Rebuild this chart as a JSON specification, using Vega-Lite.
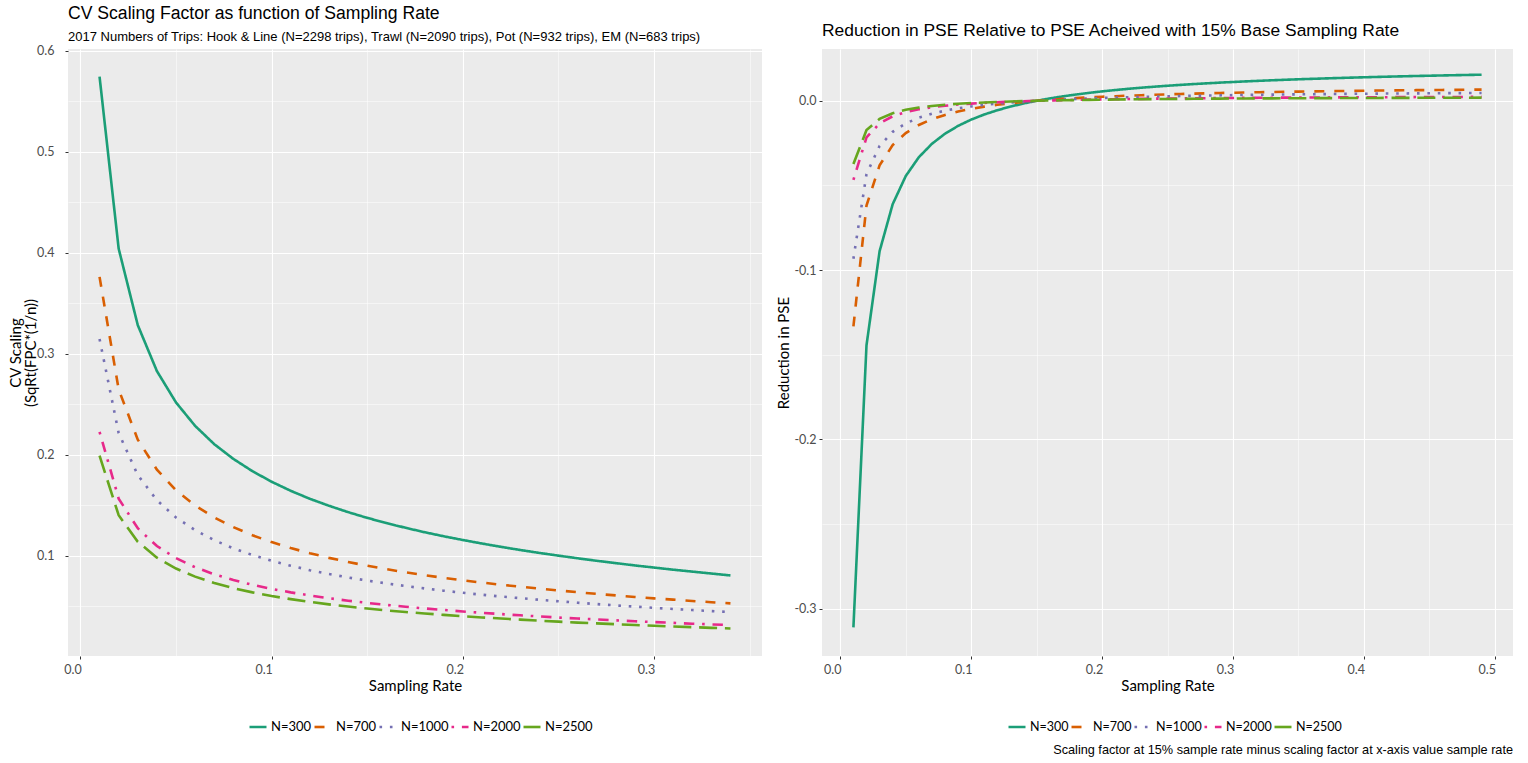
{
"$schema": "https://vega.github.io/schema/vega-lite/v6.json",
"padding": {"left": 8, "top": 5, "right": 14, "bottom": 5},
"title": {"text": "Scaling factor at 15% sample rate minus scaling factor at x-axis value sample rate", "orient": "bottom", "anchor": "end", "font": "Liberation Sans", "fontSize": 12.7, "fontWeight": "normal", "color": "#000000", "offset": 10},
"config": {
  "view": {"fill": "#EBEBEB", "stroke": null},
  "axis": {"gridColor": "#FFFFFF", "domain": false, "tickColor": "#333333", "tickSize": 3, "labelFont": "Lato", "labelFontSize": 12.5, "labelColor": "#4D4D4D", "labelOverlap": false, "labelFlush": false, "titleFont": "Lato", "titleFontSize": 15, "titleFontWeight": "normal", "titleColor": "#000000", "titleLineHeight": 15},
  "axisX": {"labelPadding": 4, "labelOffset": -8},
  "legend": {"title": null, "symbolType": "stroke", "symbolSize": 289, "symbolStrokeWidth": 2.6, "labelFont": "Lato", "labelFontSize": 13, "labelColor": "#000000", "labelOffset": 3, "columnPadding": -3, "gridAlign": "none"}
},
"datasets": {
"cv": [
{"rate":0.01,"N":"N=300","value":0.5745},{"rate":0.02,"N":"N=300","value":0.4041},{"rate":0.03,"N":"N=300","value":0.3283},{"rate":0.04,"N":"N=300","value":0.2828},{"rate":0.05,"N":"N=300","value":0.2517},{"rate":0.06,"N":"N=300","value":0.2285},{"rate":0.07,"N":"N=300","value":0.2104},{"rate":0.08,"N":"N=300","value":0.1958},{"rate":0.09,"N":"N=300","value":0.1836},{"rate":0.10,"N":"N=300","value":0.1732},{"rate":0.11,"N":"N=300","value":0.1642},{"rate":0.12,"N":"N=300","value":0.1563},{"rate":0.13,"N":"N=300","value":0.1494},{"rate":0.14,"N":"N=300","value":0.1431},{"rate":0.15,"N":"N=300","value":0.1374},{"rate":0.16,"N":"N=300","value":0.1323},{"rate":0.17,"N":"N=300","value":0.1276},{"rate":0.18,"N":"N=300","value":0.1232},{"rate":0.19,"N":"N=300","value":0.1192},{"rate":0.20,"N":"N=300","value":0.1155},{"rate":0.21,"N":"N=300","value":0.1120},{"rate":0.22,"N":"N=300","value":0.1087},{"rate":0.23,"N":"N=300","value":0.1056},{"rate":0.24,"N":"N=300","value":0.1027},{"rate":0.25,"N":"N=300","value":0.1000},{"rate":0.26,"N":"N=300","value":0.0974},{"rate":0.27,"N":"N=300","value":0.0949},{"rate":0.28,"N":"N=300","value":0.0926},{"rate":0.29,"N":"N=300","value":0.0903},{"rate":0.30,"N":"N=300","value":0.0882},{"rate":0.31,"N":"N=300","value":0.0861},{"rate":0.32,"N":"N=300","value":0.0842},{"rate":0.33,"N":"N=300","value":0.0823},{"rate":0.34,"N":"N=300","value":0.0804},
{"rate":0.01,"N":"N=700","value":0.3761},{"rate":0.02,"N":"N=700","value":0.2646},{"rate":0.03,"N":"N=700","value":0.2149},{"rate":0.04,"N":"N=700","value":0.1852},{"rate":0.05,"N":"N=700","value":0.1647},{"rate":0.06,"N":"N=700","value":0.1496},{"rate":0.07,"N":"N=700","value":0.1378},{"rate":0.08,"N":"N=700","value":0.1282},{"rate":0.09,"N":"N=700","value":0.1202},{"rate":0.10,"N":"N=700","value":0.1134},{"rate":0.11,"N":"N=700","value":0.1075},{"rate":0.12,"N":"N=700","value":0.1024},{"rate":0.13,"N":"N=700","value":0.0978},{"rate":0.14,"N":"N=700","value":0.0937},{"rate":0.15,"N":"N=700","value":0.0900},{"rate":0.16,"N":"N=700","value":0.0866},{"rate":0.17,"N":"N=700","value":0.0835},{"rate":0.18,"N":"N=700","value":0.0807},{"rate":0.19,"N":"N=700","value":0.0780},{"rate":0.20,"N":"N=700","value":0.0756},{"rate":0.21,"N":"N=700","value":0.0733},{"rate":0.22,"N":"N=700","value":0.0712},{"rate":0.23,"N":"N=700","value":0.0692},{"rate":0.24,"N":"N=700","value":0.0673},{"rate":0.25,"N":"N=700","value":0.0655},{"rate":0.26,"N":"N=700","value":0.0638},{"rate":0.27,"N":"N=700","value":0.0621},{"rate":0.28,"N":"N=700","value":0.0606},{"rate":0.29,"N":"N=700","value":0.0591},{"rate":0.30,"N":"N=700","value":0.0577},{"rate":0.31,"N":"N=700","value":0.0564},{"rate":0.32,"N":"N=700","value":0.0551},{"rate":0.33,"N":"N=700","value":0.0539},{"rate":0.34,"N":"N=700","value":0.0527},
{"rate":0.01,"N":"N=1000","value":0.3146},{"rate":0.02,"N":"N=1000","value":0.2214},{"rate":0.03,"N":"N=1000","value":0.1798},{"rate":0.04,"N":"N=1000","value":0.1549},{"rate":0.05,"N":"N=1000","value":0.1378},{"rate":0.06,"N":"N=1000","value":0.1252},{"rate":0.07,"N":"N=1000","value":0.1153},{"rate":0.08,"N":"N=1000","value":0.1072},{"rate":0.09,"N":"N=1000","value":0.1006},{"rate":0.10,"N":"N=1000","value":0.0949},{"rate":0.11,"N":"N=1000","value":0.0900},{"rate":0.12,"N":"N=1000","value":0.0856},{"rate":0.13,"N":"N=1000","value":0.0818},{"rate":0.14,"N":"N=1000","value":0.0784},{"rate":0.15,"N":"N=1000","value":0.0753},{"rate":0.16,"N":"N=1000","value":0.0725},{"rate":0.17,"N":"N=1000","value":0.0699},{"rate":0.18,"N":"N=1000","value":0.0675},{"rate":0.19,"N":"N=1000","value":0.0653},{"rate":0.20,"N":"N=1000","value":0.0632},{"rate":0.21,"N":"N=1000","value":0.0613},{"rate":0.22,"N":"N=1000","value":0.0595},{"rate":0.23,"N":"N=1000","value":0.0579},{"rate":0.24,"N":"N=1000","value":0.0563},{"rate":0.25,"N":"N=1000","value":0.0548},{"rate":0.26,"N":"N=1000","value":0.0534},{"rate":0.27,"N":"N=1000","value":0.0520},{"rate":0.28,"N":"N=1000","value":0.0507},{"rate":0.29,"N":"N=1000","value":0.0495},{"rate":0.30,"N":"N=1000","value":0.0483},{"rate":0.31,"N":"N=1000","value":0.0472},{"rate":0.32,"N":"N=1000","value":0.0461},{"rate":0.33,"N":"N=1000","value":0.0451},{"rate":0.34,"N":"N=1000","value":0.0441},
{"rate":0.01,"N":"N=2000","value":0.2225},{"rate":0.02,"N":"N=2000","value":0.1565},{"rate":0.03,"N":"N=2000","value":0.1271},{"rate":0.04,"N":"N=2000","value":0.1095},{"rate":0.05,"N":"N=2000","value":0.0975},{"rate":0.06,"N":"N=2000","value":0.0885},{"rate":0.07,"N":"N=2000","value":0.0815},{"rate":0.08,"N":"N=2000","value":0.0758},{"rate":0.09,"N":"N=2000","value":0.0711},{"rate":0.10,"N":"N=2000","value":0.0671},{"rate":0.11,"N":"N=2000","value":0.0636},{"rate":0.12,"N":"N=2000","value":0.0606},{"rate":0.13,"N":"N=2000","value":0.0578},{"rate":0.14,"N":"N=2000","value":0.0554},{"rate":0.15,"N":"N=2000","value":0.0532},{"rate":0.16,"N":"N=2000","value":0.0512},{"rate":0.17,"N":"N=2000","value":0.0494},{"rate":0.18,"N":"N=2000","value":0.0477},{"rate":0.19,"N":"N=2000","value":0.0462},{"rate":0.20,"N":"N=2000","value":0.0447},{"rate":0.21,"N":"N=2000","value":0.0434},{"rate":0.22,"N":"N=2000","value":0.0421},{"rate":0.23,"N":"N=2000","value":0.0409},{"rate":0.24,"N":"N=2000","value":0.0398},{"rate":0.25,"N":"N=2000","value":0.0387},{"rate":0.26,"N":"N=2000","value":0.0377},{"rate":0.27,"N":"N=2000","value":0.0368},{"rate":0.28,"N":"N=2000","value":0.0359},{"rate":0.29,"N":"N=2000","value":0.0350},{"rate":0.30,"N":"N=2000","value":0.0342},{"rate":0.31,"N":"N=2000","value":0.0334},{"rate":0.32,"N":"N=2000","value":0.0326},{"rate":0.33,"N":"N=2000","value":0.0319},{"rate":0.34,"N":"N=2000","value":0.0312},
{"rate":0.01,"N":"N=2500","value":0.1990},{"rate":0.02,"N":"N=2500","value":0.1400},{"rate":0.03,"N":"N=2500","value":0.1137},{"rate":0.04,"N":"N=2500","value":0.0980},{"rate":0.05,"N":"N=2500","value":0.0872},{"rate":0.06,"N":"N=2500","value":0.0792},{"rate":0.07,"N":"N=2500","value":0.0729},{"rate":0.08,"N":"N=2500","value":0.0678},{"rate":0.09,"N":"N=2500","value":0.0636},{"rate":0.10,"N":"N=2500","value":0.0600},{"rate":0.11,"N":"N=2500","value":0.0569},{"rate":0.12,"N":"N=2500","value":0.0542},{"rate":0.13,"N":"N=2500","value":0.0517},{"rate":0.14,"N":"N=2500","value":0.0496},{"rate":0.15,"N":"N=2500","value":0.0476},{"rate":0.16,"N":"N=2500","value":0.0458},{"rate":0.17,"N":"N=2500","value":0.0442},{"rate":0.18,"N":"N=2500","value":0.0427},{"rate":0.19,"N":"N=2500","value":0.0413},{"rate":0.20,"N":"N=2500","value":0.0400},{"rate":0.21,"N":"N=2500","value":0.0388},{"rate":0.22,"N":"N=2500","value":0.0377},{"rate":0.23,"N":"N=2500","value":0.0366},{"rate":0.24,"N":"N=2500","value":0.0356},{"rate":0.25,"N":"N=2500","value":0.0346},{"rate":0.26,"N":"N=2500","value":0.0337},{"rate":0.27,"N":"N=2500","value":0.0329},{"rate":0.28,"N":"N=2500","value":0.0321},{"rate":0.29,"N":"N=2500","value":0.0313},{"rate":0.30,"N":"N=2500","value":0.0306},{"rate":0.31,"N":"N=2500","value":0.0298},{"rate":0.32,"N":"N=2500","value":0.0292},{"rate":0.33,"N":"N=2500","value":0.0285},{"rate":0.34,"N":"N=2500","value":0.0279}
],
"pse": [
{"rate":0.01,"N":"N=300","value":-0.31111},{"rate":0.02,"N":"N=300","value":-0.14444},{"rate":0.03,"N":"N=300","value":-0.08889},{"rate":0.04,"N":"N=300","value":-0.06111},{"rate":0.05,"N":"N=300","value":-0.04444},{"rate":0.06,"N":"N=300","value":-0.03333},{"rate":0.07,"N":"N=300","value":-0.0254},{"rate":0.08,"N":"N=300","value":-0.01944},{"rate":0.09,"N":"N=300","value":-0.01481},{"rate":0.10,"N":"N=300","value":-0.01111},{"rate":0.11,"N":"N=300","value":-0.00808},{"rate":0.12,"N":"N=300","value":-0.00556},{"rate":0.13,"N":"N=300","value":-0.00342},{"rate":0.14,"N":"N=300","value":-0.00159},{"rate":0.15,"N":"N=300","value":0},{"rate":0.16,"N":"N=300","value":0.00139},{"rate":0.17,"N":"N=300","value":0.00261},{"rate":0.18,"N":"N=300","value":0.0037},{"rate":0.19,"N":"N=300","value":0.00468},{"rate":0.20,"N":"N=300","value":0.00556},{"rate":0.21,"N":"N=300","value":0.00635},{"rate":0.22,"N":"N=300","value":0.00707},{"rate":0.23,"N":"N=300","value":0.00773},{"rate":0.24,"N":"N=300","value":0.00833},{"rate":0.25,"N":"N=300","value":0.00889},{"rate":0.26,"N":"N=300","value":0.0094},{"rate":0.27,"N":"N=300","value":0.00988},{"rate":0.28,"N":"N=300","value":0.01032},{"rate":0.29,"N":"N=300","value":0.01073},{"rate":0.30,"N":"N=300","value":0.01111},{"rate":0.31,"N":"N=300","value":0.01147},{"rate":0.32,"N":"N=300","value":0.01181},{"rate":0.33,"N":"N=300","value":0.01212},{"rate":0.34,"N":"N=300","value":0.01242},{"rate":0.35,"N":"N=300","value":0.0127},{"rate":0.36,"N":"N=300","value":0.01296},{"rate":0.37,"N":"N=300","value":0.01321},{"rate":0.38,"N":"N=300","value":0.01345},{"rate":0.39,"N":"N=300","value":0.01368},{"rate":0.40,"N":"N=300","value":0.01389},{"rate":0.41,"N":"N=300","value":0.01409},{"rate":0.42,"N":"N=300","value":0.01429},{"rate":0.43,"N":"N=300","value":0.01447},{"rate":0.44,"N":"N=300","value":0.01465},{"rate":0.45,"N":"N=300","value":0.01481},{"rate":0.46,"N":"N=300","value":0.01498},{"rate":0.47,"N":"N=300","value":0.01513},{"rate":0.48,"N":"N=300","value":0.01528},{"rate":0.49,"N":"N=300","value":0.01542},
{"rate":0.01,"N":"N=700","value":-0.13333},{"rate":0.02,"N":"N=700","value":-0.0619},{"rate":0.03,"N":"N=700","value":-0.0381},{"rate":0.04,"N":"N=700","value":-0.02619},{"rate":0.05,"N":"N=700","value":-0.01905},{"rate":0.06,"N":"N=700","value":-0.01429},{"rate":0.07,"N":"N=700","value":-0.01088},{"rate":0.08,"N":"N=700","value":-0.00833},{"rate":0.09,"N":"N=700","value":-0.00635},{"rate":0.10,"N":"N=700","value":-0.00476},{"rate":0.11,"N":"N=700","value":-0.00346},{"rate":0.12,"N":"N=700","value":-0.00238},{"rate":0.13,"N":"N=700","value":-0.00147},{"rate":0.14,"N":"N=700","value":-0.00068},{"rate":0.15,"N":"N=700","value":0},{"rate":0.16,"N":"N=700","value":0.0006},{"rate":0.17,"N":"N=700","value":0.00112},{"rate":0.18,"N":"N=700","value":0.00159},{"rate":0.19,"N":"N=700","value":0.00201},{"rate":0.20,"N":"N=700","value":0.00238},{"rate":0.21,"N":"N=700","value":0.00272},{"rate":0.22,"N":"N=700","value":0.00303},{"rate":0.23,"N":"N=700","value":0.00331},{"rate":0.24,"N":"N=700","value":0.00357},{"rate":0.25,"N":"N=700","value":0.00381},{"rate":0.26,"N":"N=700","value":0.00403},{"rate":0.27,"N":"N=700","value":0.00423},{"rate":0.28,"N":"N=700","value":0.00442},{"rate":0.29,"N":"N=700","value":0.0046},{"rate":0.30,"N":"N=700","value":0.00476},{"rate":0.31,"N":"N=700","value":0.00492},{"rate":0.32,"N":"N=700","value":0.00506},{"rate":0.33,"N":"N=700","value":0.00519},{"rate":0.34,"N":"N=700","value":0.00532},{"rate":0.35,"N":"N=700","value":0.00544},{"rate":0.36,"N":"N=700","value":0.00556},{"rate":0.37,"N":"N=700","value":0.00566},{"rate":0.38,"N":"N=700","value":0.00576},{"rate":0.39,"N":"N=700","value":0.00586},{"rate":0.40,"N":"N=700","value":0.00595},{"rate":0.41,"N":"N=700","value":0.00604},{"rate":0.42,"N":"N=700","value":0.00612},{"rate":0.43,"N":"N=700","value":0.0062},{"rate":0.44,"N":"N=700","value":0.00628},{"rate":0.45,"N":"N=700","value":0.00635},{"rate":0.46,"N":"N=700","value":0.00642},{"rate":0.47,"N":"N=700","value":0.00648},{"rate":0.48,"N":"N=700","value":0.00655},{"rate":0.49,"N":"N=700","value":0.00661},
{"rate":0.01,"N":"N=1000","value":-0.09333},{"rate":0.02,"N":"N=1000","value":-0.04333},{"rate":0.03,"N":"N=1000","value":-0.02667},{"rate":0.04,"N":"N=1000","value":-0.01833},{"rate":0.05,"N":"N=1000","value":-0.01333},{"rate":0.06,"N":"N=1000","value":-0.01},{"rate":0.07,"N":"N=1000","value":-0.00762},{"rate":0.08,"N":"N=1000","value":-0.00583},{"rate":0.09,"N":"N=1000","value":-0.00444},{"rate":0.10,"N":"N=1000","value":-0.00333},{"rate":0.11,"N":"N=1000","value":-0.00242},{"rate":0.12,"N":"N=1000","value":-0.00167},{"rate":0.13,"N":"N=1000","value":-0.00103},{"rate":0.14,"N":"N=1000","value":-0.00048},{"rate":0.15,"N":"N=1000","value":0},{"rate":0.16,"N":"N=1000","value":0.00042},{"rate":0.17,"N":"N=1000","value":0.00078},{"rate":0.18,"N":"N=1000","value":0.00111},{"rate":0.19,"N":"N=1000","value":0.0014},{"rate":0.20,"N":"N=1000","value":0.00167},{"rate":0.21,"N":"N=1000","value":0.0019},{"rate":0.22,"N":"N=1000","value":0.00212},{"rate":0.23,"N":"N=1000","value":0.00232},{"rate":0.24,"N":"N=1000","value":0.0025},{"rate":0.25,"N":"N=1000","value":0.00267},{"rate":0.26,"N":"N=1000","value":0.00282},{"rate":0.27,"N":"N=1000","value":0.00296},{"rate":0.28,"N":"N=1000","value":0.0031},{"rate":0.29,"N":"N=1000","value":0.00322},{"rate":0.30,"N":"N=1000","value":0.00333},{"rate":0.31,"N":"N=1000","value":0.00344},{"rate":0.32,"N":"N=1000","value":0.00354},{"rate":0.33,"N":"N=1000","value":0.00364},{"rate":0.34,"N":"N=1000","value":0.00373},{"rate":0.35,"N":"N=1000","value":0.00381},{"rate":0.36,"N":"N=1000","value":0.00389},{"rate":0.37,"N":"N=1000","value":0.00396},{"rate":0.38,"N":"N=1000","value":0.00404},{"rate":0.39,"N":"N=1000","value":0.0041},{"rate":0.40,"N":"N=1000","value":0.00417},{"rate":0.41,"N":"N=1000","value":0.00423},{"rate":0.42,"N":"N=1000","value":0.00429},{"rate":0.43,"N":"N=1000","value":0.00434},{"rate":0.44,"N":"N=1000","value":0.00439},{"rate":0.45,"N":"N=1000","value":0.00444},{"rate":0.46,"N":"N=1000","value":0.00449},{"rate":0.47,"N":"N=1000","value":0.00454},{"rate":0.48,"N":"N=1000","value":0.00458},{"rate":0.49,"N":"N=1000","value":0.00463},
{"rate":0.01,"N":"N=2000","value":-0.04667},{"rate":0.02,"N":"N=2000","value":-0.02167},{"rate":0.03,"N":"N=2000","value":-0.01333},{"rate":0.04,"N":"N=2000","value":-0.00917},{"rate":0.05,"N":"N=2000","value":-0.00667},{"rate":0.06,"N":"N=2000","value":-0.005},{"rate":0.07,"N":"N=2000","value":-0.00381},{"rate":0.08,"N":"N=2000","value":-0.00292},{"rate":0.09,"N":"N=2000","value":-0.00222},{"rate":0.10,"N":"N=2000","value":-0.00167},{"rate":0.11,"N":"N=2000","value":-0.00121},{"rate":0.12,"N":"N=2000","value":-0.00083},{"rate":0.13,"N":"N=2000","value":-0.00051},{"rate":0.14,"N":"N=2000","value":-0.00024},{"rate":0.15,"N":"N=2000","value":0},{"rate":0.16,"N":"N=2000","value":0.00021},{"rate":0.17,"N":"N=2000","value":0.00039},{"rate":0.18,"N":"N=2000","value":0.00056},{"rate":0.19,"N":"N=2000","value":0.0007},{"rate":0.20,"N":"N=2000","value":0.00083},{"rate":0.21,"N":"N=2000","value":0.00095},{"rate":0.22,"N":"N=2000","value":0.00106},{"rate":0.23,"N":"N=2000","value":0.00116},{"rate":0.24,"N":"N=2000","value":0.00125},{"rate":0.25,"N":"N=2000","value":0.00133},{"rate":0.26,"N":"N=2000","value":0.00141},{"rate":0.27,"N":"N=2000","value":0.00148},{"rate":0.28,"N":"N=2000","value":0.00155},{"rate":0.29,"N":"N=2000","value":0.00161},{"rate":0.30,"N":"N=2000","value":0.00167},{"rate":0.31,"N":"N=2000","value":0.00172},{"rate":0.32,"N":"N=2000","value":0.00177},{"rate":0.33,"N":"N=2000","value":0.00182},{"rate":0.34,"N":"N=2000","value":0.00186},{"rate":0.35,"N":"N=2000","value":0.0019},{"rate":0.36,"N":"N=2000","value":0.00194},{"rate":0.37,"N":"N=2000","value":0.00198},{"rate":0.38,"N":"N=2000","value":0.00202},{"rate":0.39,"N":"N=2000","value":0.00205},{"rate":0.40,"N":"N=2000","value":0.00208},{"rate":0.41,"N":"N=2000","value":0.00211},{"rate":0.42,"N":"N=2000","value":0.00214},{"rate":0.43,"N":"N=2000","value":0.00217},{"rate":0.44,"N":"N=2000","value":0.0022},{"rate":0.45,"N":"N=2000","value":0.00222},{"rate":0.46,"N":"N=2000","value":0.00225},{"rate":0.47,"N":"N=2000","value":0.00227},{"rate":0.48,"N":"N=2000","value":0.00229},{"rate":0.49,"N":"N=2000","value":0.00231},
{"rate":0.01,"N":"N=2500","value":-0.03733},{"rate":0.02,"N":"N=2500","value":-0.01733},{"rate":0.03,"N":"N=2500","value":-0.01067},{"rate":0.04,"N":"N=2500","value":-0.00733},{"rate":0.05,"N":"N=2500","value":-0.00533},{"rate":0.06,"N":"N=2500","value":-0.004},{"rate":0.07,"N":"N=2500","value":-0.00305},{"rate":0.08,"N":"N=2500","value":-0.00233},{"rate":0.09,"N":"N=2500","value":-0.00178},{"rate":0.10,"N":"N=2500","value":-0.00133},{"rate":0.11,"N":"N=2500","value":-0.00097},{"rate":0.12,"N":"N=2500","value":-0.00067},{"rate":0.13,"N":"N=2500","value":-0.00041},{"rate":0.14,"N":"N=2500","value":-0.00019},{"rate":0.15,"N":"N=2500","value":0},{"rate":0.16,"N":"N=2500","value":0.00017},{"rate":0.17,"N":"N=2500","value":0.00031},{"rate":0.18,"N":"N=2500","value":0.00044},{"rate":0.19,"N":"N=2500","value":0.00056},{"rate":0.20,"N":"N=2500","value":0.00067},{"rate":0.21,"N":"N=2500","value":0.00076},{"rate":0.22,"N":"N=2500","value":0.00085},{"rate":0.23,"N":"N=2500","value":0.00093},{"rate":0.24,"N":"N=2500","value":0.001},{"rate":0.25,"N":"N=2500","value":0.00107},{"rate":0.26,"N":"N=2500","value":0.00113},{"rate":0.27,"N":"N=2500","value":0.00119},{"rate":0.28,"N":"N=2500","value":0.00124},{"rate":0.29,"N":"N=2500","value":0.00129},{"rate":0.30,"N":"N=2500","value":0.00133},{"rate":0.31,"N":"N=2500","value":0.00138},{"rate":0.32,"N":"N=2500","value":0.00142},{"rate":0.33,"N":"N=2500","value":0.00145},{"rate":0.34,"N":"N=2500","value":0.00149},{"rate":0.35,"N":"N=2500","value":0.00152},{"rate":0.36,"N":"N=2500","value":0.00156},{"rate":0.37,"N":"N=2500","value":0.00159},{"rate":0.38,"N":"N=2500","value":0.00161},{"rate":0.39,"N":"N=2500","value":0.00164},{"rate":0.40,"N":"N=2500","value":0.00167},{"rate":0.41,"N":"N=2500","value":0.00169},{"rate":0.42,"N":"N=2500","value":0.00171},{"rate":0.43,"N":"N=2500","value":0.00174},{"rate":0.44,"N":"N=2500","value":0.00176},{"rate":0.45,"N":"N=2500","value":0.00178},{"rate":0.46,"N":"N=2500","value":0.0018},{"rate":0.47,"N":"N=2500","value":0.00182},{"rate":0.48,"N":"N=2500","value":0.00183},{"rate":0.49,"N":"N=2500","value":0.00185}
]
},
"spacing": 14,
"resolve": {"scale": {"color": "independent", "strokeDash": "independent"}},
"hconcat": [
{
  "width": 694, "height": 607,
  "title": {"text": "CV Scaling Factor as function of Sampling Rate", "subtitle": "2017 Numbers of Trips: Hook & Line (N=2298 trips), Trawl (N=2090 trips), Pot (N=932 trips), EM (N=683 trips)", "anchor": "start", "frame": "group", "font": "Liberation Sans", "fontSize": 17.6, "fontWeight": "normal", "color": "#000000", "subtitleFont": "Liberation Sans", "subtitleFontSize": 13, "subtitleColor": "#000000", "subtitlePadding": 8, "offset": 1},
  "data": {"name": "cv"},
  "mark": {"type": "line", "strokeWidth": 2.6, "clip": true},
  "encoding": {
    "x": {"field": "rate", "type": "quantitative", "title": "Sampling Rate",
      "scale": {"domain": [-0.0065, 0.3565], "nice": false, "zero": false},
      "axis": {"values": [0, 0.05, 0.1, 0.15, 0.2, 0.25, 0.3, 0.35], "titlePadding": 3,
        "labelExpr": "abs(datum.value*10-round(datum.value*10))<0.001 ? replace(format(datum.value,'.1f'),'−','-') : ''",
        "gridWidth": {"condition": {"test": "abs(datum.value*10-round(datum.value*10))<0.001", "value": 1.1}, "value": 0.5},
        "tickOpacity": {"condition": {"test": "abs(datum.value*10-round(datum.value*10))<0.001", "value": 1}, "value": 0}}},
    "y": {"field": "value", "type": "quantitative", "title": ["CV Scaling", "(SqRt(FPC*(1/n))"],
      "scale": {"domain": [0.0006, 0.6018], "nice": false, "zero": false},
      "axis": {"values": [0.05, 0.1, 0.15, 0.2, 0.25, 0.3, 0.35, 0.4, 0.45, 0.5, 0.55, 0.6], "labelPadding": 11, "titlePadding": -2,
        "labelExpr": "abs(datum.value*10-round(datum.value*10))<0.001 ? replace(format(datum.value,'.1f'),'−','-') : ''",
        "gridWidth": {"condition": {"test": "abs(datum.value*10-round(datum.value*10))<0.001", "value": 1.1}, "value": 0.5},
        "tickOpacity": {"condition": {"test": "abs(datum.value*10-round(datum.value*10))<0.001", "value": 1}, "value": 0}}},
    "color": {"field": "N", "type": "nominal",
      "scale": {"domain": ["N=300", "N=700", "N=1000", "N=2000", "N=2500"], "range": ["#1B9E77", "#D95F02", "#7570B3", "#E7298A", "#66A61E"]},
      "legend": {"orient": "none", "legendX": 180, "legendY": 668, "direction": "horizontal", "columns": 5}},
    "strokeDash": {"field": "N", "type": "nominal",
      "scale": {"domain": ["N=300", "N=700", "N=1000", "N=2000", "N=2500"], "range": [[1, 0], [10, 10], [2.6, 7.8], [2.6, 7.8, 10.4, 7.8], [18, 7.8]]},
      "legend": {"orient": "none", "legendX": 180, "legendY": 668, "direction": "horizontal", "columns": 5}}
  }
},
{
  "width": 691, "height": 607,
  "title": {"text": "Reduction in PSE Relative to PSE Acheived with 15% Base Sampling Rate", "anchor": "start", "frame": "group", "font": "Liberation Sans", "fontSize": 17.4, "fontWeight": "normal", "color": "#000000", "offset": 10},
  "data": {"name": "pse"},
  "mark": {"type": "line", "strokeWidth": 2.6, "clip": true},
  "encoding": {
    "x": {"field": "rate", "type": "quantitative", "title": "Sampling Rate",
      "scale": {"domain": [-0.014, 0.514], "nice": false, "zero": false},
      "axis": {"values": [0, 0.05, 0.1, 0.15, 0.2, 0.25, 0.3, 0.35, 0.4, 0.45, 0.5], "titlePadding": 3,
        "labelExpr": "abs(datum.value*10-round(datum.value*10))<0.001 ? replace(format(datum.value,'.1f'),'−','-') : ''",
        "gridWidth": {"condition": {"test": "abs(datum.value*10-round(datum.value*10))<0.001", "value": 1.1}, "value": 0.5},
        "tickOpacity": {"condition": {"test": "abs(datum.value*10-round(datum.value*10))<0.001", "value": 1}, "value": 0}}},
    "y": {"field": "value", "type": "quantitative", "title": "Reduction in PSE",
      "scale": {"domain": [-0.328, 0.0306], "nice": false, "zero": false},
      "axis": {"values": [-0.3, -0.25, -0.2, -0.15, -0.1, -0.05, 0], "labelPadding": 3, "titlePadding": 2.5,
        "labelExpr": "abs(datum.value*10-round(datum.value*10))<0.001 ? replace(format(datum.value,'.1f'),'−','-') : ''",
        "gridWidth": {"condition": {"test": "abs(datum.value*10-round(datum.value*10))<0.001", "value": 1.1}, "value": 0.5},
        "tickOpacity": {"condition": {"test": "abs(datum.value*10-round(datum.value*10))<0.001", "value": 1}, "value": 0}}},
    "color": {"field": "N", "type": "nominal",
      "scale": {"domain": ["N=300", "N=700", "N=1000", "N=2000", "N=2500"], "range": ["#1B9E77", "#D95F02", "#7570B3", "#E7298A", "#66A61E"]},
      "legend": {"orient": "none", "legendX": 185, "legendY": 668, "direction": "horizontal", "columns": 5, "labelFontSize": 12.5}},
    "strokeDash": {"field": "N", "type": "nominal",
      "scale": {"domain": ["N=300", "N=700", "N=1000", "N=2000", "N=2500"], "range": [[1, 0], [10, 10], [2.6, 7.8], [2.6, 7.8, 10.4, 7.8], [18, 7.8]]},
      "legend": {"orient": "none", "legendX": 185, "legendY": 668, "direction": "horizontal", "columns": 5, "labelFontSize": 12.5}}
  }
}
]
}
